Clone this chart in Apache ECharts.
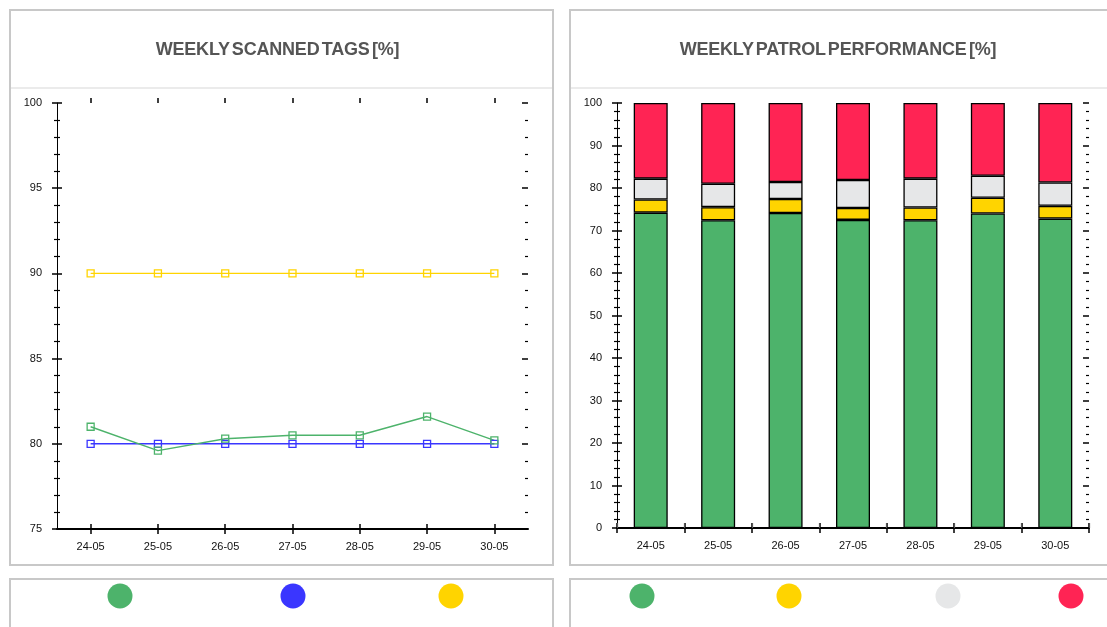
<!DOCTYPE html>
<html><head><meta charset="utf-8">
<script src="https://cdn.jsdelivr.net/npm/echarts@6/dist/echarts.min.js"></script>
<style>
html,body{margin:0;padding:0;background:#fff;overflow:hidden;width:1107px;height:627px}
#c{position:absolute;left:0;top:0;width:1107px;height:627px}
.t{position:absolute;top:39px;height:20px;line-height:20px;font-family:"Liberation Sans",Arial,sans-serif;font-weight:bold;font-size:18px;color:#555;text-align:center;word-spacing:-2.5px;letter-spacing:-0.2px;white-space:nowrap;z-index:2}
</style></head><body>
<div id="c"></div>
<div class="t" style="left:6px;width:543px">WEEKLY SCANNED TAGS [%]</div>
<div class="t" style="left:570px;width:536px">WEEKLY PATROL PERFORMANCE [%]</div>
<script>
// ---- data ----
const dates = ['24-05', '25-05', '26-05', '27-05', '28-05', '29-05', '30-05'];
const scannedTags = [81.0, 79.6, 80.3, 80.5, 80.5, 81.6, 80.2];
const minimumLevel = [80, 80, 80, 80, 80, 80, 80];
const targetLevel = [90, 90, 90, 90, 90, 90, 90];
const patrolOnTime = [74.2, 72.4, 74.1, 72.5, 72.4, 74.0, 72.8];
const patrolLate = [3.1, 3.1, 3.3, 2.8, 3.0, 3.7, 3.0];
const patrolIncomplete = [4.9, 5.5, 4.0, 6.6, 6.8, 5.2, 5.5];
const patrolMissed = [17.8, 19.0, 18.6, 18.1, 17.8, 17.1, 18.7];
const leftRange = [75, 100, 5];
const rightRange = [0, 100, 10];

const C = { green: '#4DB36B', blue: '#3A36FF', yellow: '#FFD400', grey: '#E6E7E8', red: '#FF2454' };
const FONT = '"Liberation Sans", Arial, sans-serif';

const chart = echarts.init(document.getElementById('c'), null, { renderer: 'canvas' });

const lbl = { color: '#111', fontSize: 11, fontFamily: FONT };
function catAxis(grid, pos, opts) {
  return Object.assign({
    type: 'category', gridIndex: grid, position: pos, data: dates, boundaryGap: true,
    axisLine: { show: false }, axisLabel: { show: false },
    axisTick: { show: true, length: 5, lineStyle: { color: '#000', width: 1.5 } },
    splitLine: { show: false }
  }, opts);
}
function valAxis(grid, pos, range, opts) {
  return Object.assign({
    type: 'value', gridIndex: grid, position: pos, min: range[0], max: range[1], interval: range[2],
    axisLine: { show: false }, axisLabel: { show: false },
    axisTick: { show: true, length: 5, lineStyle: { color: '#000', width: 1.5 } },
    minorTick: { show: true, splitNumber: 5, length: 3, lineStyle: { color: '#000', width: 1.2 } },
    splitLine: { show: false }, minorSplitLine: { show: false }
  }, opts);
}

function lineSeries(name, data, color) {
  return {
    type: 'line', name, data, xAxisIndex: 0, yAxisIndex: 0,
    symbol: 'rect', symbolSize: 7,
    lineStyle: { color, width: 1.4 },
    itemStyle: { color: 'rgba(0,0,0,0)', borderColor: color, borderWidth: 1.3 },
    emphasis: { disabled: true }, z: 3
  };
}
function barSeries(name, data, color) {
  return {
    type: 'bar', name, data, xAxisIndex: 3, yAxisIndex: 3, stack: 'patrol', barWidth: 34,
    itemStyle: { color, borderColor: '#000', borderWidth: 1.3 },
    emphasis: { disabled: true }
  };
}
function legendAt(name, color, cx) {
  return {
    data: [{ name, itemStyle: { color, borderWidth: 0 } }],
    left: cx - 12.5, top: 583.5, padding: 0, itemGap: 0,
    itemWidth: 25, itemHeight: 25, icon: 'circle',
    formatter: function () { return ''; }, selectedMode: false,
    textStyle: { fontSize: 1 }
  };
}

const option = {
  animation: false,
  backgroundColor: '#fff',
  graphic: [
    { type: 'rect', shape: { x: 10, y: 10, width: 543, height: 555 }, style: { fill: 'none', stroke: '#c8c8c8', lineWidth: 2 }, z: -10 },
    { type: 'line', shape: { x1: 11, y1: 88, x2: 552, y2: 88 }, style: { stroke: '#e4e4e4', lineWidth: 1.5 }, z: -10 },
    { type: 'rect', shape: { x: 570, y: 10, width: 560, height: 555 }, style: { fill: 'none', stroke: '#c8c8c8', lineWidth: 2 }, z: -10 },
    { type: 'line', shape: { x1: 571, y1: 88, x2: 1107, y2: 88 }, style: { stroke: '#e4e4e4', lineWidth: 1.5 }, z: -10 },
    { type: 'rect', shape: { x: 10, y: 579, width: 543, height: 100 }, style: { fill: 'none', stroke: '#c8c8c8', lineWidth: 2 }, z: -10 },
    { type: 'rect', shape: { x: 570, y: 579, width: 560, height: 100 }, style: { fill: 'none', stroke: '#c8c8c8', lineWidth: 2 }, z: -10 }
  ],
  grid: [
    { left: 57, top: 103, width: 471, height: 426, containLabel: false, outerBoundsMode: 'none' },
    { left: 617, top: 103, width: 472, height: 425, containLabel: false, outerBoundsMode: 'none' }
  ],
  xAxis: [
    catAxis(0, 'bottom', {
      axisLine: { show: true, lineStyle: { color: '#000', width: 2 } },
      axisTick: { show: true, alignWithLabel: true, length: 5, lineStyle: { color: '#000', width: 1.5 } },
      axisLabel: Object.assign({ show: true, margin: 12 }, lbl)
    }),
    catAxis(0, 'bottom', { axisTick: { show: true, inside: true, alignWithLabel: true, length: 5, lineStyle: { color: '#000', width: 1.5 } } }),
    catAxis(0, 'top', { axisTick: { show: true, alignWithLabel: true, length: 5, lineStyle: { color: '#000', width: 1.5 } } }),
    catAxis(1, 'bottom', {
      axisLine: { show: true, lineStyle: { color: '#000', width: 2 } },
      axisTick: { show: true, length: 5, lineStyle: { color: '#000', width: 1.5 } },
      axisLabel: Object.assign({ show: true, margin: 12 }, lbl)
    }),
    catAxis(1, 'bottom', { axisTick: { show: true, inside: true, length: 5, lineStyle: { color: '#000', width: 1.5 } } }),
    catAxis(1, 'top', { axisTick: { show: true, length: 5, lineStyle: { color: '#555', width: 1.2 } } })
  ],
  yAxis: [
    valAxis(0, 'left', leftRange, {
      axisLine: { show: true, lineStyle: { color: '#000', width: 1 } },
      axisLabel: Object.assign({ show: true, margin: 15 }, lbl)
    }),
    valAxis(0, 'left', leftRange, {
      axisTick: { show: true, inside: true, length: 5, lineStyle: { color: '#000', width: 1.5 } },
      minorTick: { show: true, splitNumber: 5, length: 3, lineStyle: { color: '#000', width: 1.2 } }
    }),
    valAxis(0, 'right', leftRange, {
      axisTick: { show: true, inside: true, length: 6, lineStyle: { color: '#000', width: 1.5 } },
      minorTick: { show: true, splitNumber: 5, length: 3, lineStyle: { color: '#000', width: 1.2 } }
    }),
    valAxis(1, 'left', rightRange, {
      axisLine: { show: true, lineStyle: { color: '#000', width: 1 } },
      axisLabel: Object.assign({ show: true, margin: 15 }, lbl)
    }),
    valAxis(1, 'left', rightRange, {
      axisTick: { show: true, inside: true, length: 5, lineStyle: { color: '#000', width: 1.5 } },
      minorTick: { show: true, splitNumber: 5, length: 3, lineStyle: { color: '#000', width: 1.2 } }
    }),
    valAxis(1, 'right', rightRange, {
      axisTick: { show: true, inside: true, length: 6, lineStyle: { color: '#000', width: 1.5 } },
      minorTick: { show: true, splitNumber: 5, length: 3, lineStyle: { color: '#000', width: 1.2 } }
    })
  ],
  legend: [
    legendAt('Scanned tags', C.green, 120),
    legendAt('Minimum', C.blue, 293),
    legendAt('Target', C.yellow, 451),
    legendAt('On time', C.green, 642),
    legendAt('Late', C.yellow, 789),
    legendAt('Incomplete', C.grey, 948),
    legendAt('Missed', C.red, 1071)
  ],
  series: [
    lineSeries('Target', targetLevel, C.yellow),
    lineSeries('Minimum', minimumLevel, C.blue),
    lineSeries('Scanned tags', scannedTags, C.green),
    barSeries('On time', patrolOnTime, C.green),
    barSeries('Late', patrolLate, C.yellow),
    barSeries('Incomplete', patrolIncomplete, C.grey),
    barSeries('Missed', patrolMissed, C.red)
  ]
};
chart.setOption(option);
</script>
</body></html>
